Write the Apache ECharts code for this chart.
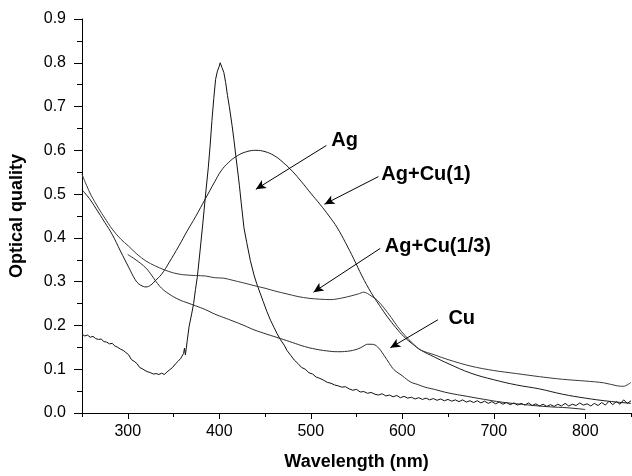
<!DOCTYPE html>
<html>
<head>
<meta charset="utf-8">
<script src="https://cdn.jsdelivr.net/npm/echarts@6/dist/echarts.min.js"></script>
<style>
  html, body { margin: 0; padding: 0; background: #fff; }
  #chart { width: 632px; height: 476px; }
</style>
</head>
<body>
<div id="chart"></div>
<script>
// wavelength (nm) / optical quality
var agX = [250,253,256,259,262,265,268,271,274,277,280,283,286,289,292,295,298,301,304,307,310,313,316,319,322,325,328,331,334,337,340,343,346,349,352,355,358,361,362,363,365,367,370,372,374,376,379,382,385,388,390,392,394,396,398,400,401,402,403,404,405,407,409,411,414,416,418,420,422,424,427,430,434,438,441,445,448,452,456,460,463,467,471,474,478,482,486,490,494,498,502,506,510,514,518,522,526,530,534,538,542,546,550,554,558,562,566,570,574,578,582,586,590,594,598,602,606,610,614,618,622,626,630,634,638,642,646,650,654,658,662,666,670,674,678,682,686,690,694,698,702,706,710,714,718,722,726,730,734,738,742,746,750,754,758,762,766,770,774,778,782,786,790,794,798,802,806,810,814,818,822,826,830,834,838,842,846,850];
var agY = [0.180,0.176,0.178,0.173,0.175,0.170,0.168,0.169,0.163,0.162,0.158,0.159,0.153,0.150,0.146,0.143,0.138,0.133,0.122,0.118,0.113,0.104,0.101,0.097,0.094,0.092,0.089,0.090,0.088,0.091,0.088,0.094,0.099,0.104,0.112,0.118,0.125,0.136,0.148,0.133,0.165,0.197,0.228,0.250,0.282,0.310,0.370,0.432,0.498,0.560,0.610,0.668,0.718,0.762,0.781,0.792,0.800,0.797,0.789,0.787,0.778,0.755,0.725,0.700,0.657,0.625,0.589,0.555,0.520,0.480,0.423,0.390,0.348,0.315,0.295,0.272,0.255,0.232,0.212,0.195,0.182,0.167,0.155,0.143,0.132,0.121,0.113,0.104,0.100,0.092,0.089,0.082,0.079,0.075,0.070,0.068,0.064,0.062,0.059,0.060,0.055,0.052,0.054,0.048,0.049,0.045,0.047,0.043,0.041,0.044,0.039,0.041,0.037,0.040,0.035,0.038,0.034,0.036,0.032,0.035,0.031,0.034,0.030,0.033,0.029,0.032,0.028,0.031,0.027,0.030,0.026,0.030,0.025,0.028,0.024,0.028,0.023,0.027,0.022,0.026,0.021,0.025,0.020,0.024,0.019,0.023,0.018,0.022,0.018,0.023,0.017,0.021,0.016,0.020,0.015,0.019,0.015,0.020,0.016,0.022,0.016,0.020,0.017,0.023,0.018,0.021,0.016,0.022,0.017,0.024,0.018,0.027,0.019,0.026,0.020,0.030,0.022,0.028];

var cu1X = [250,258,265,275,283,292,301,308,312,317,320,325,330,337,345,356,365,374,385,395,402,410,420,430,440,450,460,470,480,490,500,510,520,529,538,547,556,566,575,584,593,602,611,620,635,650,675,700,725,750,775,800,825,850];
var cu1Y = [0.510,0.490,0.468,0.435,0.408,0.370,0.333,0.305,0.295,0.289,0.288,0.292,0.302,0.317,0.343,0.382,0.416,0.448,0.490,0.528,0.553,0.572,0.588,0.597,0.600,0.597,0.588,0.572,0.552,0.528,0.502,0.477,0.450,0.423,0.389,0.352,0.313,0.275,0.246,0.219,0.195,0.174,0.158,0.144,0.128,0.113,0.091,0.076,0.064,0.055,0.043,0.034,0.027,0.022];

var cu3X = [250,255,260,268,275,283,292,301,310,320,330,340,350,360,374,385,395,405,415,425,438,450,462,474,486,498,510,522,535,545,552,558,562,567,573,580,588,595,603,611,620,635,650,675,700,725,750,775,800,820,835,842,850];
var cu3Y = [0.545,0.520,0.497,0.468,0.445,0.420,0.398,0.381,0.363,0.347,0.336,0.327,0.320,0.316,0.314,0.313,0.309,0.308,0.303,0.298,0.291,0.285,0.278,0.272,0.266,0.262,0.260,0.259,0.263,0.268,0.272,0.276,0.273,0.266,0.257,0.240,0.218,0.197,0.177,0.160,0.144,0.133,0.122,0.107,0.097,0.090,0.083,0.077,0.073,0.069,0.062,0.061,0.070];

var cuX = [300,306,312,319,325,331,337,345,356,366,374,385,395,405,415,427,438,452,467,480,493,505,517,529,540,551,557,562,567,573,580,586,591,600,609,617,625,635,650,671,690,708,725,744,762,780,800];
var cuY = [0.362,0.354,0.345,0.333,0.318,0.300,0.285,0.272,0.259,0.251,0.245,0.236,0.226,0.218,0.210,0.200,0.190,0.180,0.170,0.161,0.152,0.146,0.142,0.140,0.141,0.146,0.152,0.157,0.157,0.151,0.132,0.113,0.099,0.085,0.071,0.065,0.059,0.054,0.046,0.038,0.031,0.025,0.021,0.017,0.014,0.012,0.008];

// annotations: text centre, arrow tail, arrow head (data coords)
var noteText = ['Ag', 'Ag+Cu(1)', 'Ag+Cu(1/3)', 'Cu'];
var noteAt = [[537, 0.622], [626, 0.545], [639, 0.380], [665, 0.215]];
var arrowFrom = [[517, 0.611], [574, 0.540], [576, 0.376], [639, 0.213]];
var arrowTo = [[440, 0.511], [515, 0.477], [503, 0.276], [587, 0.149]];

var xLabels = [300, 400, 500, 600, 700, 800];
var xMinor = [250, 350, 450, 550, 650, 750, 850];

function pairs(xs, ys) {
  var out = [];
  for (var i = 0; i < xs.length; i++) out.push([xs[i], ys[i]]);
  return out;
}

var font = 'Liberation Sans, Arial, Helvetica, sans-serif';
var chart = echarts.init(document.getElementById('chart'));

function curve(name, xs, ys, color, smooth) {
  return {
    name: name, type: 'line', data: pairs(xs, ys),
    showSymbol: false, smooth: smooth, animation: false,
    lineStyle: { color: color, width: 1 }
  };
}

var notes = [];
var arrows = [];
for (var i = 0; i < noteText.length; i++) {
  notes.push({ value: noteAt[i], name: noteText[i] });
  arrows.push([{ coord: arrowFrom[i] }, { coord: arrowTo[i] }]);
}

option = {
  backgroundColor: '#fff',
  animation: false,
  grid: { left: 82, right: 1, top: 19, bottom: 59 },
  xAxis: [{
    type: 'value', min: 250, max: 850,
    name: 'Wavelength (nm)', nameLocation: 'middle', nameGap: 40,
    nameTextStyle: { fontFamily: font, fontSize: 18, fontWeight: 'bold', color: '#000' },
    axisLine: { lineStyle: { color: '#000', width: 1 } },
    axisTick: { customValues: xLabels, length: 6, lineStyle: { color: '#000' } },
    axisLabel: { customValues: xLabels, margin: 11, fontFamily: font, fontSize: 16, color: '#000' },
    splitLine: { show: false }
  }, {
    type: 'value', min: 250, max: 850, position: 'bottom',
    axisLine: { show: false },
    axisTick: { customValues: xMinor, length: 4, lineStyle: { color: '#000' } },
    axisLabel: { show: false },
    splitLine: { show: false }
  }],
  yAxis: {
    type: 'value', min: 0, max: 0.9, interval: 0.1,
    name: 'Optical quality', nameLocation: 'middle', nameGap: 56, nameRotate: 90,
    nameTextStyle: { fontFamily: font, fontSize: 18, fontWeight: 'bold', color: '#000' },
    axisLine: { show: true, lineStyle: { color: '#000', width: 1 } },
    axisTick: { show: true, length: 8, lineStyle: { color: '#000' } },
    minorTick: { show: true, splitNumber: 2, length: 5, lineStyle: { color: '#000' } },
    axisLabel: {
      margin: 16, fontFamily: font, fontSize: 16, color: '#000',
      formatter: function (v) { return v.toFixed(1); }
    },
    splitLine: { show: false }
  },
  series: [
    curve('Ag', agX, agY, '#111', false),
    curve('Ag+Cu(1)', cu1X, cu1Y, '#1a1a1a', 0.4),
    curve('Ag+Cu(1/3)', cu3X, cu3Y, '#3a3a3a', 0.3),
    curve('Cu', cuX, cuY, '#2a2a2a', 0.4),
    {
      type: 'scatter', data: notes, symbolSize: 0, silent: true,
      itemStyle: { opacity: 1 },
      label: {
        show: true, position: 'inside', formatter: '{b}', opacity: 1,
        fontFamily: font, fontSize: 20, fontWeight: 'bold', color: '#000',
        textBorderWidth: 0
      },
      markLine: {
        silent: true, symbol: ['none', 'arrow'], symbolSize: [7, 10],
        label: { show: false },
        lineStyle: { color: '#000', width: 1, type: 'solid', opacity: 1 },
        data: arrows
      }
    }
  ]
};

chart.setOption(option);
</script>
</body>
</html>
